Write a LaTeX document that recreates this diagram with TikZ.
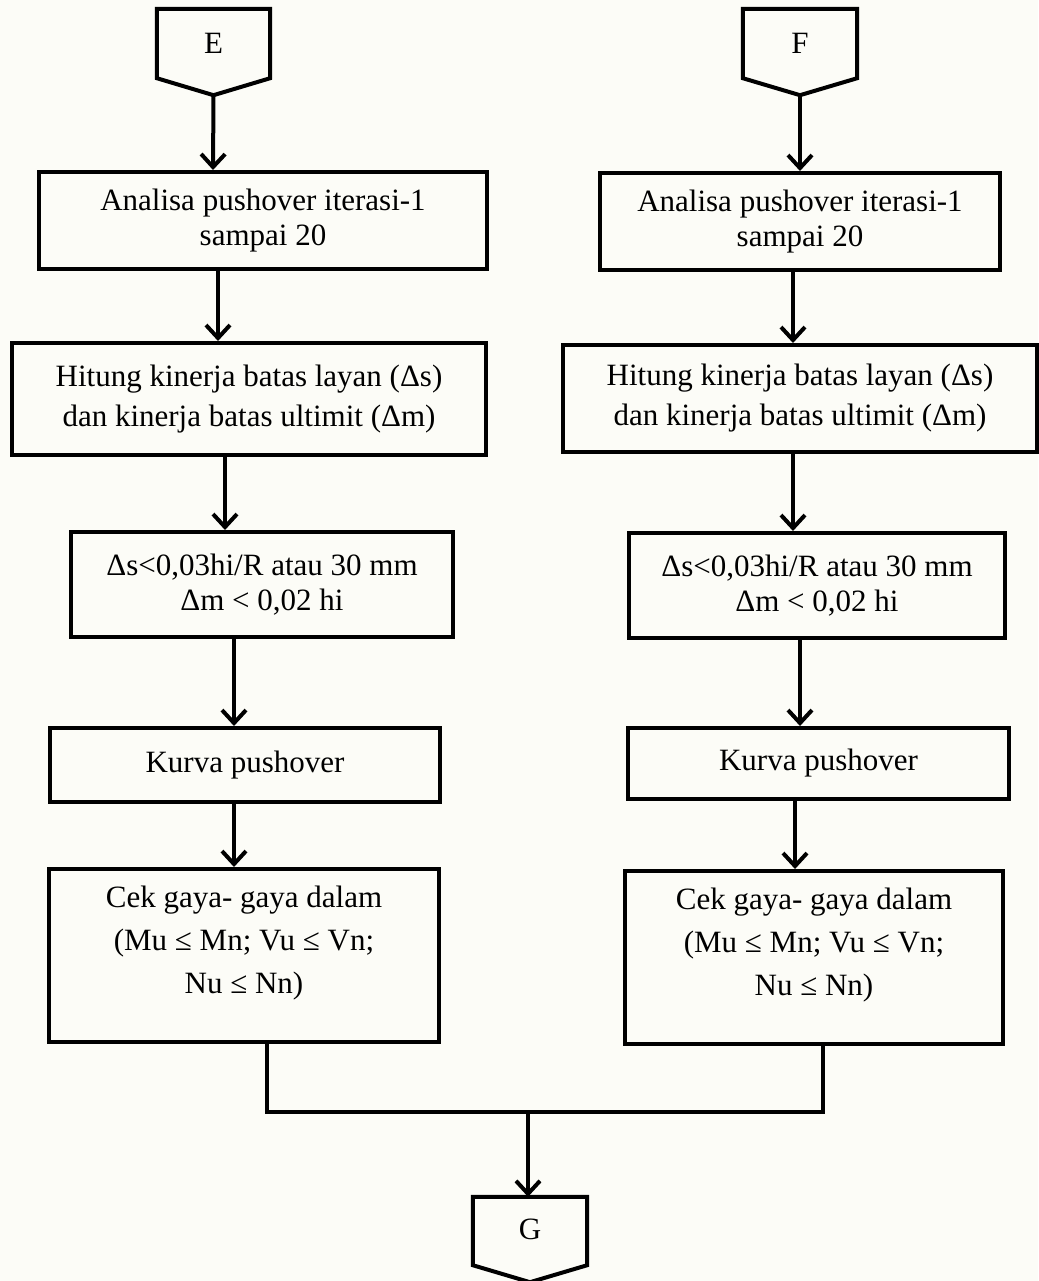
\documentclass[tikz,border=0pt]{standalone}
\usepackage{fontspec}
\setmainfont{Liberation Serif}
\usetikzlibrary{arrows.meta,calc}
\definecolor{bgc}{RGB}{252,252,247}
\tikzset{
  box/.style={draw=black, line width=4pt, fill=bgc, inner sep=0pt, align=center,
    font=\fontsize{31}{35}\selectfont},
  conn/.style={inner sep=0pt, font=\fontsize{31}{35}\selectfont},
  txt/.style={inner sep=0pt, align=center, font=\fontsize{31}{43}\selectfont},
  arr/.style={line width=4pt, -{Straight Barb[length=13pt,width=24pt]}},
  ln/.style={line width=4pt},
  outline/.style={draw=black, line width=4pt, fill=bgc, line join=miter}
}
\begin{document}
\begin{tikzpicture}[x=1pt,y=-1pt]
\useasboundingbox (0,0) rectangle (1038,1281);
\fill[bgc] (0,0) rectangle (1038,1281);

% column x positions for connectors
\coordinate (xe) at (213,0);
\coordinate (xa) at (218,0);
\coordinate (xb) at (225,0);
\coordinate (xc) at (234,0);
\coordinate (xd) at (267,0);
\coordinate (xf) at (800,0);
\coordinate (xg) at (793,0);
\coordinate (xh) at (800,0);
\coordinate (xi) at (795,0);
\coordinate (xj) at (823,0);
\coordinate (xk) at (528,0);

% off-page connectors
\node[conn, minimum width=113pt, minimum height=69pt] (E) at (213.5,43.5) {};
\draw[outline] (E.north west) -- (E.north east) -- (E.south east)
  -- ($(E.south)+(0,17)$) coordinate (Etip) -- (E.south west) -- cycle;
\node[conn] (Et) at (213.5,43) {E};

\node[conn, minimum width=114pt, minimum height=69pt] (F) at (800,43.5) {};
\draw[outline] (F.north west) -- (F.north east) -- (F.south east)
  -- ($(F.south)+(0,17)$) coordinate (Ftip) -- (F.south west) -- cycle;
\node[conn] (Ft) at (800,43) {F};

\node[conn, minimum width=114pt, minimum height=68pt] (G) at (530,1231) {};
\draw[outline] (G.north west) -- (G.north east) -- (G.south east)
  -- ($(G.south)+(0,17)$) coordinate (Gtip) -- (G.south west) -- cycle;
\node[conn] (Gt) at (530,1229) {G};

% left column
\node[box, minimum width=448pt, minimum height=97pt] (B1L) at (263,220.5)
  {Analisa pushover iterasi-1\\sampai 20};
\node[box, minimum width=474pt, minimum height=112pt,
  font=\fontsize{31}{40}\selectfont] (B2L) at (249,399)
  {Hitung kinerja batas layan (Δs)\\dan kinerja batas ultimit (Δm)};
\node[box, minimum width=382pt, minimum height=105pt] (B3L) at (262,584.5)
  {Δs<0,03hi/R atau 30 mm\\Δm < 0,02 hi};
\node[box, minimum width=390pt, minimum height=74pt] (B4L) at (245,765)
  {Kurva pushover};
\node[box, minimum width=390pt, minimum height=173pt] (B5L) at (244,955.5) {};
\node[txt] (T5L) at (244,943)
  {Cek gaya- gaya dalam\\(Mu ≤ Mn; Vu ≤ Vn;\\Nu ≤ Nn)};

% right column
\node[box, minimum width=400pt, minimum height=97pt] (B1R) at (800,221.5)
  {Analisa pushover iterasi-1\\sampai 20};
\node[box, minimum width=474pt, minimum height=107pt,
  font=\fontsize{31}{40}\selectfont] (B2R) at (800,398.5)
  {Hitung kinerja batas layan (Δs)\\dan kinerja batas ultimit (Δm)};
\node[box, minimum width=376pt, minimum height=105pt] (B3R) at (817,585.5)
  {Δs<0,03hi/R atau 30 mm\\Δm < 0,02 hi};
\node[box, minimum width=381pt, minimum height=71pt] (B4R) at (818.5,763.5)
  {Kurva pushover};
\node[box, minimum width=378pt, minimum height=173pt] (B5R) at (814,957.5) {};
\node[txt] (T5R) at (814,945)
  {Cek gaya- gaya dalam\\(Mu ≤ Mn; Vu ≤ Vn;\\Nu ≤ Nn)};

% arrows left
\draw[arr] (Etip) -- (B1L.north -| xe);
\draw[arr] (B1L.south -| xa) -- (B2L.north -| xa);
\draw[arr] (B2L.south -| xb) -- (B3L.north -| xb);
\draw[arr] (B3L.south -| xc) -- (B4L.north -| xc);
\draw[arr] (B4L.south -| xc) -- (B5L.north -| xc);

% arrows right
\draw[arr] (Ftip) -- (B1R.north -| xf);
\draw[arr] (B1R.south -| xg) -- (B2R.north -| xg);
\draw[arr] (B2R.south -| xg) -- (B3R.north -| xg);
\draw[arr] (B3R.south -| xh) -- (B4R.north -| xh);
\draw[arr] (B4R.south -| xi) -- (B5R.north -| xi);

% merge
\coordinate (jl) at (267,1112);
\coordinate (jr) at (823,1112);
\coordinate (jm) at (528,1112);
\draw[ln] (B5L.south -| xd) -- (jl) -- (jr) -- (B5R.south -| xj);
\draw[arr] (jm) -- (G.north -| xk);
\end{tikzpicture}
\end{document}
